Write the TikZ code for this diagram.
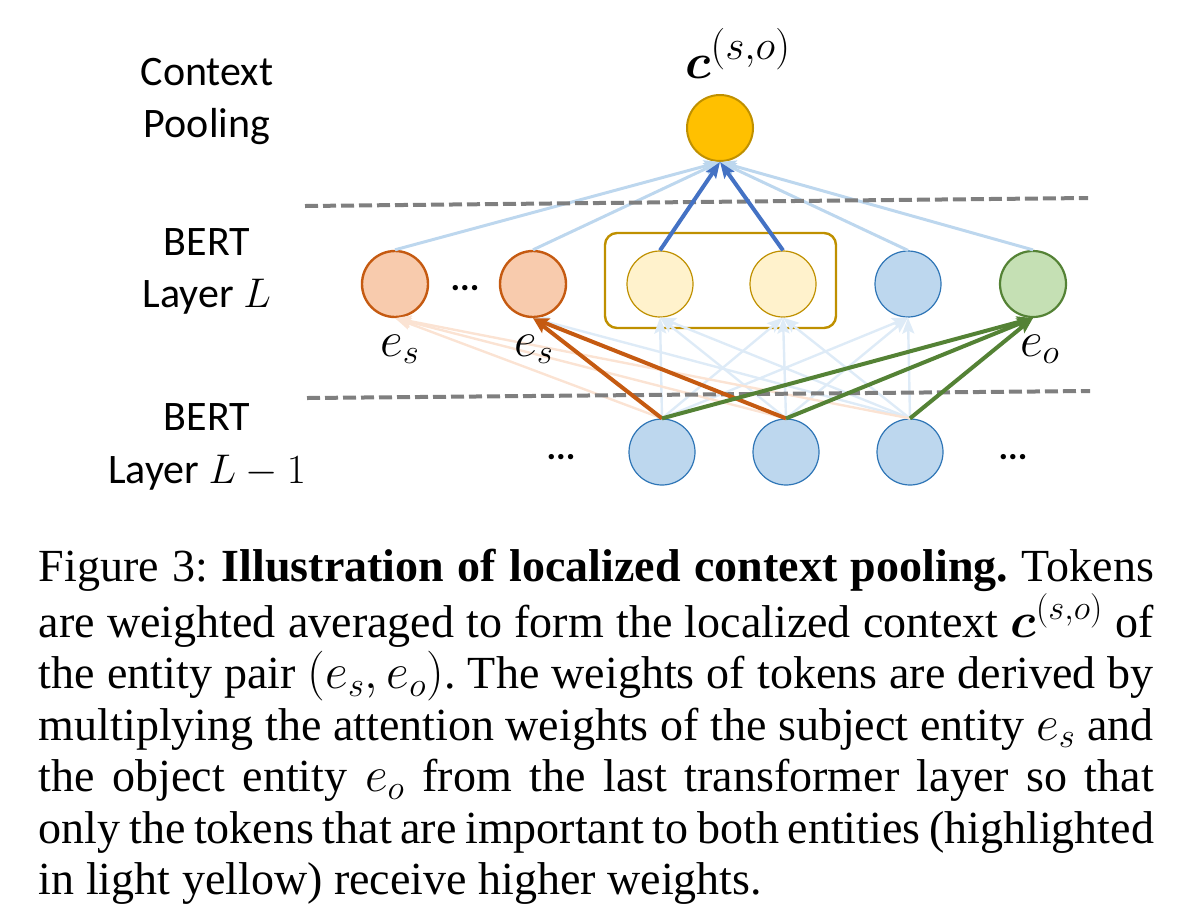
\documentclass[tikz,border=0pt]{standalone}
\usepackage{fontspec}
\setmainfont{Liberation Serif}
\newfontfamily\carlito{Carlito}
\usepackage{bm}
\usetikzlibrary{arrows.meta}
\definecolor{goldfill}{HTML}{FFC000}
\definecolor{golddraw}{HTML}{BF9000}
\definecolor{orfill}{HTML}{F8CBAD}
\definecolor{ordraw}{HTML}{C55A11}
\definecolor{yfill}{HTML}{FFF2CC}
\definecolor{bfill}{HTML}{BDD7EE}
\definecolor{bdraw}{HTML}{2E75B6}
\definecolor{gfill}{HTML}{C5E0B4}
\definecolor{gdraw}{HTML}{548235}
\definecolor{dblue}{HTML}{4472C4}
\definecolor{lblue}{HTML}{BDD7EE}
\definecolor{fblue}{HTML}{DEEBF7}
\definecolor{forange}{HTML}{FBE3D3}
\definecolor{dgray}{HTML}{7F7F7F}
\frenchspacing
\begin{document}
\begin{tikzpicture}[x=0.5pt,y=-0.5pt,
  tok/.style={circle,minimum size=33pt,inner sep=0pt},
  estok/.style={tok,fill=orfill,draw=ordraw,line width=1.2pt},
  ytok/.style={tok,fill=yfill,draw=golddraw,line width=0.6pt},
  btok/.style={tok,fill=bfill,draw=bdraw,line width=0.6pt},
  gtok/.style={tok,fill=gfill,draw=gdraw,line width=1.1pt},
  sidelabel/.style={anchor=base,inner sep=0pt,font=\carlito\fontsize{21}{26}\selectfont},
  dotslabel/.style={anchor=base,inner sep=0pt,font=\carlito\bfseries\fontsize{18}{20}\selectfont},
  elabel/.style={anchor=base,inner sep=0pt,font=\fontsize{24}{28}\selectfont},
  tip/.style={-{Stealth[length=8pt,width=6pt,inset=1.5pt]}},
  faintblue/.style={tip,draw=fblue,line width=1.2pt},
  faintorange/.style={tip,draw=forange,line width=1.2pt},
  lightblue/.style={tip,draw=lblue,line width=1.5pt},
  strongblue/.style={tip,draw=dblue,line width=2pt},
  strongorange/.style={tip,draw=ordraw,line width=2pt},
  stronggreen/.style={tip,draw=gdraw,line width=2pt},
  sep/.style={draw=dgray,line width=2pt,dash pattern=on 6.5pt off 2.5pt}
]
\useasboundingbox (0,0) rectangle (1197,922);

% left labels
\node[sidelabel] (ctx1) at (207,85) {Context};
\node[sidelabel] (ctx2) at (207,137) {Pooling};
\node[sidelabel] (berta1) at (207,255) {BERT};
\node[sidelabel] (berta2) at (207,307) {Layer $L$};
\node[sidelabel] (bertb1) at (207,430) {BERT};
\node[sidelabel] (bertb2) at (207,483) {Layer $L-1$};

% top node
\node[tok,fill=goldfill,draw=golddraw,line width=1pt] (top) at (720,128) {};
\node[anchor=base,inner sep=0pt,font=\fontsize{29}{33}\selectfont] (clabel) at (738,78) {$\bm{c}^{(s,o)}$};

% layer L
\node[estok] (n1) at (395,284) {};
\node[estok] (n2) at (533,284) {};
\node[ytok] (n3) at (660,284) {};
\node[ytok] (n4) at (783,284) {};
\node[btok] (n5) at (908,284) {};
\node[gtok] (n6) at (1033,284) {};
\node[draw=golddraw,line width=1.2pt,rounded corners=6pt,minimum width=115.5pt,minimum height=47.5pt,inner sep=0pt] (box) at (720.5,280.5) {};
\node[dotslabel] (dotsL) at (465,290) {...};

% layer L-1
\node[btok] (b1) at (662,452) {};
\node[btok] (b2) at (786,452) {};
\node[btok] (b3) at (910,452) {};
\node[dotslabel] (dotsA) at (561,459) {...};
\node[dotslabel] (dotsB) at (1013,459) {...};

% faint connections
\foreach \b in {b1,b2,b3}{
  \foreach \n in {n3,n4,n5}{
    \draw[faintblue] (\b.north) -- (\n.south);
  }
}
\draw[faintblue] (b3.north) -- (n2.south);
\foreach \b in {b1,b2,b3}{
  \draw[faintorange] (\b.north) -- (n1.south);
}
\foreach \n in {n1,n2,n5,n6}{
  \draw[lightblue] (\n.north) -- (top.south);
}

% labels under layer L
\node[elabel] (es1) at (400,356) {$e_s$};
\node[elabel] (es2) at (534,356) {$e_s$};
\node[elabel] (eo) at (1040,356) {$e_o$};

% separators
\coordinate (s1a) at (305,206);
\coordinate (s1b) at (1088,198);
\coordinate (s2a) at (307,398);
\coordinate (s2b) at (1090,391);
\draw[sep] (s1a) -- (s1b);
\draw[sep] (s2a) -- (s2b);

% strong connections
\draw[strongblue] (n3.north) -- (top.south);
\draw[strongblue] (n4.north) -- (top.south);
\draw[strongorange] (b1.north) -- (n2.south);
\draw[strongorange] (b2.north) -- (n2.south);
\draw[stronggreen] (b1.north) -- (n6.south);
\draw[stronggreen] (b2.north) -- (n6.south);
\draw[stronggreen] (b3.north) -- (n6.south);

% caption
\node[anchor=north west,inner sep=0pt,font=\fontsize{23}{25.75}\selectfont] (cap) at (38.5,548.5) {\vbox{\hsize=557.5pt
\hbox to\hsize{Figure 3: \textbf{Illustration of localized context pooling.} Tokens}
\hbox to\hsize{are weighted averaged to form the localized context $\bm{c}^{(s,o)}$ of}
\hbox to\hsize{the entity pair $(e_s, e_o)$. The weights of tokens are derived by}
\hbox to\hsize{multiplying the attention weights of the subject entity $e_s$ and}
\hbox to\hsize{the object entity $e_o$ from the last transformer layer so that}
\hbox to\hsize{only the tokens that are important to both entities (highlighted}
\hbox{in light yellow) receive higher weights.}}};
\end{tikzpicture}
\end{document}
